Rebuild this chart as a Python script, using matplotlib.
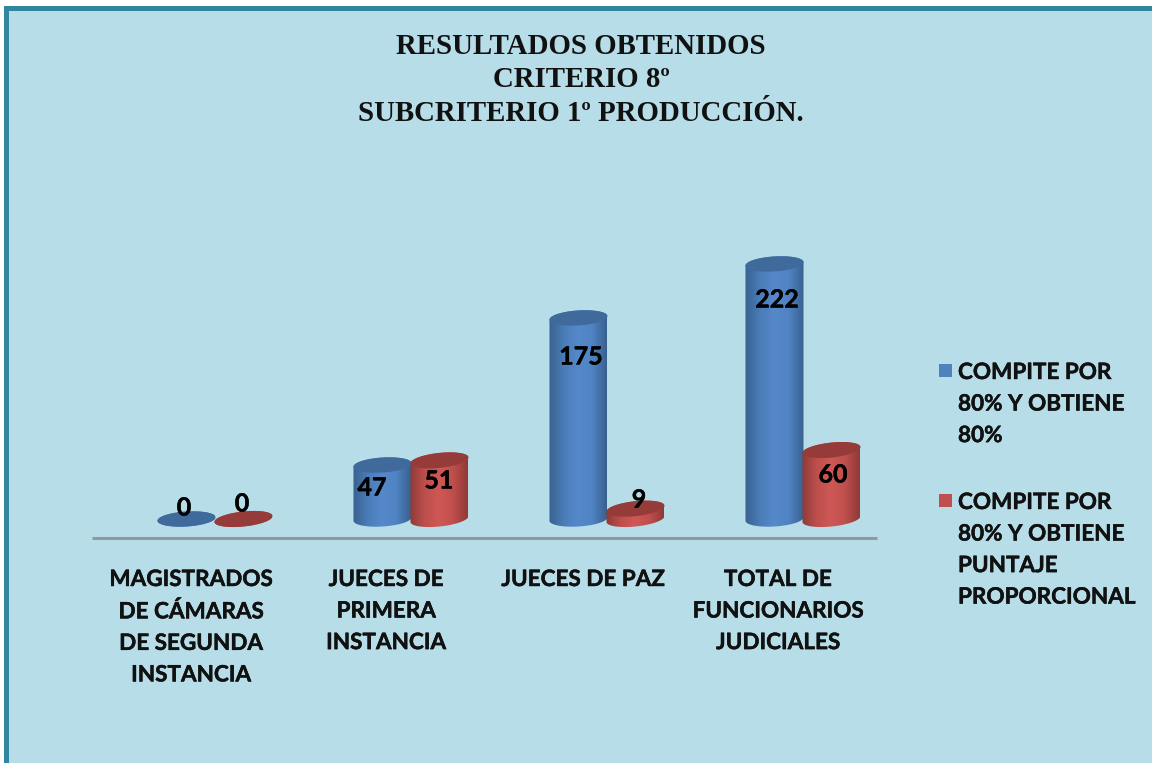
import numpy as np
import matplotlib
matplotlib.use("Agg")
import matplotlib.pyplot as plt
import matplotlib.patheffects as pe
from matplotlib.colors import LinearSegmentedColormap
from matplotlib.patches import Polygon, Rectangle

categories = ["MAGISTRADOS\nDE CÁMARAS\nDE SEGUNDA\nINSTANCIA", "JUECES DE\nPRIMERA\nINSTANCIA",
              "JUECES DE PAZ", "TOTAL DE\nFUNCIONARIOS\nJUDICIALES"]
series_a = [0, 47, 175, 222]
series_b = [0, 51, 9, 60]
name_a = "COMPITE POR\n80% Y OBTIENE\n80%"
name_b = "COMPITE POR\n80% Y OBTIENE\nPUNTAJE\nPROPORCIONAL"
title_lines = ["RESULTADOS OBTENIDOS", "CRITERIO 8º", "SUBCRITERIO 1º PRODUCCIÓN."]

W, H = 1152, 763
PX_X = 196.0
PX_Y = 1.149
X0, Y0 = 215.0, 519.0

fig = plt.figure(figsize=(W / 100, H / 100), dpi=100, facecolor="white")
ax = fig.add_axes([0, 0, 1, 1])
ax.set_xlim(-X0 / PX_X, (W - X0) / PX_X)
ax.set_ylim((Y0 - H) / PX_Y, Y0 / PX_Y)
ax.axis("off")


def px(x, y):
    return (x - X0) / PX_X, (Y0 - y) / PX_Y


# Panel and border
x1, y1 = px(4, H + 5)
x2, y2 = px(W + 5, 6)
ax.add_patch(Rectangle((x1, y1), x2 - x1, y2 - y1, fc="#b7dde8", ec="none", zorder=0))
for a, b, c, d in [(4, 6, 5, H), (4, 6, W, 5)]:
    xa, ya = px(a, b + d)
    ax.add_patch(Rectangle((xa, ya), c / PX_X, d / PX_Y, fc="#31859c", ec="none", zorder=1))

# Axis line
xa, ya = px(92, 538)
xb, _ = px(877, 538)
ax.plot([xa, xb], [ya, ya], color="#8f9a9e", lw=2.2, zorder=2, solid_capstyle="butt")

half_w = 29 / PX_X
b_h = 7.5 / PX_Y
cm_a = LinearSegmentedColormap.from_list("a", ["#38618f", "#4a7cb8", "#5689cb", "#5083c2", "#38618f"])
cm_b = LinearSegmentedColormap.from_list("b", ["#8e3a38", "#bd4f4c", "#cf5855", "#c04f4c", "#8e3a38"])
grad = np.linspace(0, 1, 128).reshape(1, -1)


def cylinder(cx, val, cmap, top_c, slope_px):
    slope = slope_px * (PX_X / PX_Y)
    t = np.linspace(0, np.pi, 60)
    tilt = lambda dx: slope * dx
    low_x = half_w * np.cos(np.pi + t)
    low_y = -b_h * np.sin(t) + tilt(low_x)
    up_x = half_w * np.cos(t)
    up_y = val + b_h * np.sin(t) + tilt(up_x)
    body = Polygon(np.column_stack([cx + np.r_[low_x, up_x], np.r_[low_y, up_y]]), closed=True,
                   fc="none", ec="none", zorder=3)
    ax.add_patch(body)
    im = ax.imshow(grad, cmap=cmap, aspect="auto", zorder=3, interpolation="bilinear",
                   extent=(cx - half_w, cx + half_w, -30, val + 30))
    im.set_clip_path(body)
    tt = np.linspace(0, 2 * np.pi, 120)
    tx = half_w * np.cos(tt)
    ty = val + b_h * np.sin(tt) + tilt(tx)
    ax.fill(cx + tx, ty, color=top_c, ec="none", zorder=4)


off_a, off_b = -28.5 / PX_X, 28.5 / PX_X
for i, (a, b) in enumerate(zip(series_a, series_b)):
    cylinder(i + off_a, a, cm_a, "#3f6a9b", 0.06)
    cylinder(i + off_b, b, cm_b, "#953b39", 0.10)

# Value labels
lab_font = ["Lato", "DejaVu Sans"]
bold = [pe.withStroke(linewidth=0.3, foreground="black")]
pos_a = [(184, 508), (372, 488), (581, 357), (777, 300)]
pos_b = [(242, 504), (439, 481), (639, 500), (833, 475)]
for v, p in list(zip(series_a, pos_a)) + list(zip(series_b, pos_b)):
    xt, yt = px(*p)
    ax.text(xt, yt, str(v), ha="center", va="center", fontsize=18, weight="bold",
            family=lab_font, color="black", zorder=6, path_effects=bold)

# Category labels
cat_cx = [191, 386, 583, 778]
for cx, c in zip(cat_cx, categories):
    xt, yt = px(cx, 569)
    ax.text(xt, yt, c, ha="center", va="top", fontsize=16.2, weight="bold", family=lab_font,
            color="#111111", linespacing=1.62, zorder=6, path_effects=bold)

# Title
for yy, line in zip([54, 87, 121], title_lines):
    xt, yt = px(581, yy)
    ax.text(xt, yt, line, ha="center", va="baseline", fontsize=20.8, weight="bold",
            family="Liberation Serif", color="#111111", zorder=6)

# Legend
for yy, col, txt in [(371, "#4f81bd", name_a), (501, "#c0504d", name_b)]:
    xt, yt = px(939, yy + 6)
    ax.add_patch(Rectangle((xt, yt), 13.5 / PX_X, 13.5 / PX_Y, fc=col, ec="none", zorder=6))
    xt, yt = px(958, yy - 9)
    ax.text(xt, yt, txt, ha="left", va="top", fontsize=16.2, weight="bold", family=lab_font,
            color="#111111", linespacing=1.62, zorder=6, path_effects=bold)

ax.set_xlim(-X0 / PX_X, (W - X0) / PX_X)
ax.set_ylim((Y0 - H) / PX_Y, Y0 / PX_Y)
fig.savefig("out.png", dpi=100, facecolor="white")
